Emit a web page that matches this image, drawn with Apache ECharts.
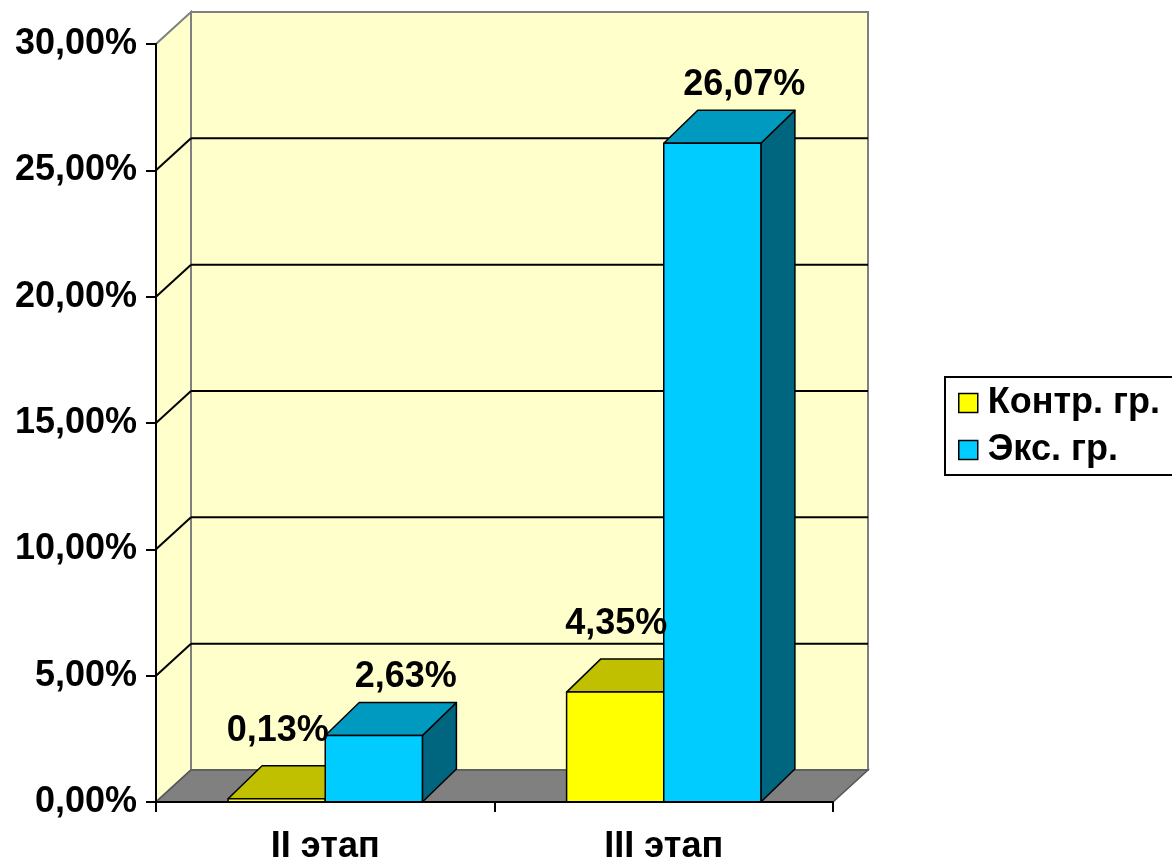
<!DOCTYPE html>
<html>
<head>
<meta charset="utf-8">
<script src="https://cdn.jsdelivr.net/npm/echarts@6/dist/echarts.min.js"></script>
<style>
  html, body { margin: 0; padding: 0; background: #fff; }
  #chart { width: 1172px; height: 861px; }
</style>
</head>
<body>
<div id="chart"></div>
<script>
// данные
var stages = ['II этап', 'III этап'];
var seriesNames = ['Контр. гр.', 'Экс. гр.'];
var controlGroup = [0.13, 4.35];
var experimentGroup = [2.63, 26.07];
var yTicks = [0, 5, 10, 15, 20, 25, 30];

var FONT = '"Liberation Sans", Arial, sans-serif';
var WALL_DX = 35, WALL_DY = -32;   // глубина стенок
var BAR_DX = 34, BAR_DY = -33;     // глубина столбиков
var BAR_FRAC = 0.287;              // ширина столбика от категории

var palette = [
  { front: '#FFFF00', top: '#C0C000', side: '#808000', labelDx: 1, labelDy: 35 },
  { front: '#00CCFF', top: '#0099C0', side: '#006680', labelDx: 32, labelDy: 25 }
];

function pct(v) {
  return Number(v).toFixed(2).replace('.', ',') + '%';
}

// стенки и пол
function renderWalls(params, api) {
  var cs = params.coordSys;
  var x0 = cs.x, x1 = cs.x + cs.width, yt = cs.y, yb = cs.y + cs.height;
  var wallStyle = { fill: '#FFFFCC', stroke: '#808080', lineWidth: 2 };
  var children = [];
  children.push({
    type: 'polygon',
    shape: { points: [[x0, yb], [x0, yt], [x0 + WALL_DX, yt + WALL_DY], [x0 + WALL_DX, yb + WALL_DY]] },
    style: wallStyle
  });
  children.push({
    type: 'rect',
    shape: { x: x0 + WALL_DX, y: yt + WALL_DY, width: cs.width, height: cs.height },
    style: wallStyle
  });
  children.push({
    type: 'polygon',
    shape: { points: [[x0, yb], [x1, yb], [x1 + WALL_DX, yb + WALL_DY], [x0 + WALL_DX, yb + WALL_DY]] },
    style: { fill: '#808080', stroke: '#555555', lineWidth: 1.5 }
  });
  for (var i = 1; i < yTicks.length - 1; i++) {
    var y = api.coord([0, yTicks[i]])[1];
    children.push({
      type: 'line',
      shape: { x1: x0, y1: y, x2: x0 + WALL_DX, y2: y + WALL_DY },
      style: { stroke: '#000', lineWidth: 2 }
    });
    children.push({
      type: 'line',
      shape: { x1: x0 + WALL_DX, y1: y + WALL_DY, x2: x1 + WALL_DX, y2: y + WALL_DY },
      style: { stroke: '#000', lineWidth: 2 }
    });
  }
  return { type: 'group', children: children };
}

function barGeom(api, k) {
  var cat = api.value(0), val = api.value(1);
  var top = api.coord([cat, val]);
  var base = api.coord([cat, 0]);
  var bw = api.size([1, 0])[0] * BAR_FRAC;
  var left = k === 0 ? top[0] - bw : top[0];
  return { left: left, bw: bw, ty: top[1], by: base[1] };
}

function makeBarRender(k) {
  return function (params, api) {
    var g = barGeom(api, k);
    var c = palette[k];
    var edge = { stroke: '#000', lineWidth: 1.5, lineJoin: 'round' };
    var r = g.left + g.bw;
    return {
      type: 'group',
      children: [
        {
          type: 'polygon',
          shape: { points: [[r, g.ty], [r, g.by], [r + BAR_DX, g.by + BAR_DY], [r + BAR_DX, g.ty + BAR_DY]] },
          style: Object.assign({ fill: c.side }, edge)
        },
        {
          type: 'polygon',
          shape: { points: [[g.left, g.ty], [r, g.ty], [r + BAR_DX, g.ty + BAR_DY], [g.left + BAR_DX, g.ty + BAR_DY]] },
          style: Object.assign({ fill: c.top }, edge)
        },
        {
          type: 'rect',
          shape: { x: g.left, y: g.ty, width: g.bw, height: g.by - g.ty },
          style: Object.assign({ fill: c.front }, edge)
        }
      ]
    };
  };
}

function renderLabel(params, api) {
  var k = api.value(2);
  var g = barGeom(api, k);
  var c = palette[k];
  return {
    type: 'text',
    x: g.left + g.bw / 2 + c.labelDx,
    y: g.ty + BAR_DY - c.labelDy,
    style: {
      text: pct(api.value(1)),
      fill: '#000',
      font: 'bold 36px ' + FONT,
      textAlign: 'center',
      textVerticalAlign: 'middle'
    }
  };
}

var labelData = [];
controlGroup.forEach(function (v, i) { labelData.push([i, v, 0]); });
experimentGroup.forEach(function (v, i) { labelData.push([i, v, 1]); });

var dom = document.getElementById('chart');
var myChart = echarts.init(dom, null, { renderer: 'canvas' });

var option = {
  backgroundColor: '#ffffff',
  animation: false,
  textStyle: { fontFamily: FONT },
  grid: { left: 156, right: 339, top: 44, bottom: 59, containLabel: false, outerBoundsMode: 'none' },
  legend: {
    data: seriesNames,
    orient: 'vertical',
    left: 945,
    top: 377,
    padding: [7, 16, 6, 13],
    itemGap: 9,
    itemWidth: 19,
    itemHeight: 19,
    icon: 'rect',
    borderColor: '#000',
    borderWidth: 2,
    itemStyle: { borderColor: '#000', borderWidth: 1.5 },
    textStyle: { fontSize: 36, fontWeight: 'bold', color: '#000', fontFamily: FONT, lineHeight: 38, padding: [0, 0, 0, 5] }
  },
  xAxis: {
    type: 'category',
    data: stages,
    z: 5,
    axisLine: { show: true, lineStyle: { color: '#000', width: 2 } },
    axisTick: { show: true, length: 10, lineStyle: { color: '#000', width: 2 } },
    axisLabel: { fontSize: 36, fontWeight: 'bold', color: '#000', fontFamily: FONT, margin: 27 },
    splitLine: { show: false }
  },
  yAxis: {
    type: 'value',
    min: 0,
    max: 30,
    interval: 5,
    z: 5,
    axisLine: { show: true, lineStyle: { color: '#000', width: 2 } },
    axisTick: { show: true, length: 10, lineStyle: { color: '#000', width: 2 } },
    axisLabel: { formatter: pct, fontSize: 36, fontWeight: 'bold', color: '#000', fontFamily: FONT, margin: 19 },
    splitLine: { show: false }
  },
  series: [
    {
      name: 'walls',
      type: 'custom',
      z: 1,
      silent: true,
      renderItem: renderWalls,
      data: [[0, 0]]
    },
    {
      name: seriesNames[0],
      type: 'custom',
      z: 2,
      renderItem: makeBarRender(0),
      itemStyle: { color: palette[0].front },
      data: controlGroup.map(function (v, i) { return [i, v]; })
    },
    {
      name: seriesNames[1],
      type: 'custom',
      z: 3,
      renderItem: makeBarRender(1),
      itemStyle: { color: palette[1].front },
      data: experimentGroup.map(function (v, i) { return [i, v]; })
    },
    {
      name: 'labels',
      type: 'custom',
      z: 6,
      silent: true,
      renderItem: renderLabel,
      data: labelData
    }
  ]
};

if (option && typeof option === 'object') {
  myChart.setOption(option);
}
</script>
</body>
</html>
